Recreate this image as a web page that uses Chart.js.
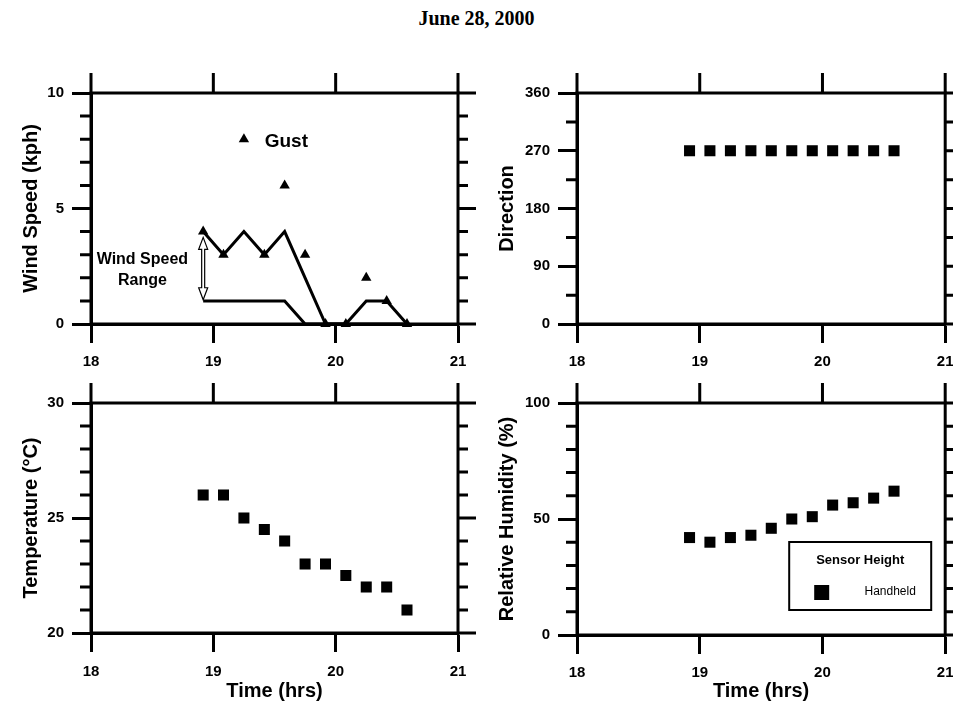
<!DOCTYPE html>
<html>
<head>
<meta charset="utf-8">
<script src="https://cdn.jsdelivr.net/npm/chart.js@4.4.0/dist/chart.umd.min.js"></script>
<style>
  body { margin: 0; background: #fff; }
  #wrap { position: relative; width: 953px; height: 705px; overflow: hidden; }
  #title { position: absolute; left: 0; top: 7px; width: 953px; text-align: center;
           font: bold 20px "Liberation Serif", "Times New Roman", serif; line-height: 23px; color: #000; }
  canvas { position: absolute; }
</style>
</head>
<body>
<div id="wrap">
  <div id="title">June 28, 2000</div>
  <canvas id="wind" width="476" height="310" style="left:0;top:60px"></canvas>
  <canvas id="dir" width="477" height="310" style="left:476px;top:60px"></canvas>
  <canvas id="temp" width="476" height="335" style="left:0;top:370px"></canvas>
  <canvas id="rh" width="477" height="335" style="left:476px;top:370px"></canvas>
</div>
<script>
// sample times, hours
const timeHrs = [18.917, 19.083, 19.25, 19.417, 19.583, 19.75, 19.917, 20.083, 20.25, 20.417, 20.583];
// wind speed, kph
const windMax  = [4, 3, 4, 3, 4, 2, 0, 0, 1, 1, 0];
const windMin  = [1, 1, 1, 1, 1, 0, 0, 0, 0, 0, 0];
const windGust = [4, 3, 8, 3, 6, 3, 0, 0, 2, 1, 0];
// direction, degrees
const direction = [270, 270, 270, 270, 270, 270, 270, 270, 270, 270, 270];
// temperature, C
const temperature = [26, 26, 25, 24.5, 24, 23, 23, 22.5, 22, 22, 21];
// relative humidity, %
const humidity = [42, 40, 42, 43, 46, 50, 51, 56, 57, 59, 62];

const xTicks = [18, 19, 20, 21];

const FAMILY = '"Liberation Sans", Arial, sans-serif';
Chart.defaults.font.family = FAMILY;
Chart.defaults.color = '#000';

function pts(ys) {
  return timeHrs.map((t, i) => ({ x: t, y: ys[i] }));
}

// box round the plot, mirrored ticks on top and right, minor ticks
const framePlugin = {
  id: 'frame',
  afterDraw(chart, args, opts) {
    const { ctx, chartArea: a, scales: { x, y } } = chart;
    ctx.save();
    ctx.strokeStyle = '#000';
    ctx.lineWidth = 3;
    ctx.strokeRect(a.left, a.top, a.right - a.left, a.bottom - a.top);
    ctx.beginPath();
    xTicks.forEach(v => {
      const px = x.getPixelForValue(v);
      ctx.moveTo(px, a.top);
      ctx.lineTo(px, a.top - 20);
    });
    for (let v = y.min; v <= y.max + 1e-9; v += opts.minor) {
      const py = y.getPixelForValue(v);
      const r = v / opts.major;
      const major = Math.abs(r - Math.round(r)) < 1e-6;
      ctx.moveTo(a.right, py);
      ctx.lineTo(a.right + (major ? 19 : 10), py);
      if (!major) {
        ctx.moveTo(a.left + 2, py);
        ctx.lineTo(a.left - 11, py);
      }
    }
    ctx.stroke();
    ctx.restore();
  }
};

// text and arrow in the wind panel
const windNotes = {
  id: 'windNotes',
  afterDatasetsDraw(chart) {
    const { ctx, scales: { x, y } } = chart;
    ctx.save();
    ctx.fillStyle = '#000';
    ctx.textBaseline = 'middle';
    ctx.font = 'bold 19px ' + FAMILY;
    ctx.fillText('Gust', x.getPixelForValue(19.42), y.getPixelForValue(7.9));
    ctx.font = 'bold 16px ' + FAMILY;
    ctx.textAlign = 'center';
    ctx.fillText('Wind Speed', x.getPixelForValue(18.42), y.getPixelForValue(2.77));
    ctx.fillText('Range', x.getPixelForValue(18.42), y.getPixelForValue(1.86));

    // hollow double arrow
    const ax = x.getPixelForValue(18.917);
    const y1 = y.getPixelForValue(3.75), y2 = y.getPixelForValue(1.05);
    ctx.lineWidth = 1.2;
    ctx.strokeStyle = '#000';
    ctx.beginPath();
    ctx.moveTo(ax, y1);
    ctx.lineTo(ax + 4.5, y1 + 12);
    ctx.lineTo(ax + 1.5, y1 + 12);
    ctx.lineTo(ax + 1.5, y2 - 12);
    ctx.lineTo(ax + 4.5, y2 - 12);
    ctx.lineTo(ax, y2);
    ctx.lineTo(ax - 4.5, y2 - 12);
    ctx.lineTo(ax - 1.5, y2 - 12);
    ctx.lineTo(ax - 1.5, y1 + 12);
    ctx.lineTo(ax - 4.5, y1 + 12);
    ctx.closePath();
    ctx.stroke();
    ctx.restore();
  }
};

// boxed legend in the humidity panel
const rhLegend = {
  id: 'rhLegend',
  afterDraw(chart) {
    const { ctx, chartArea: a } = chart;
    const w = 142, h = 68;
    const left = a.right - 14 - w, top = a.bottom - 25 - h;
    ctx.save();
    ctx.fillStyle = '#fff';
    ctx.fillRect(left, top, w, h);
    ctx.strokeStyle = '#000';
    ctx.lineWidth = 2;
    ctx.strokeRect(left, top, w, h);
    ctx.fillStyle = '#000';
    ctx.textAlign = 'center';
    ctx.textBaseline = 'middle';
    ctx.font = 'bold 13px ' + FAMILY;
    ctx.fillText('Sensor Height', left + w / 2, top + 18);
    ctx.fillRect(left + 25, top + 43, 15, 15);
    ctx.font = '12px ' + FAMILY;
    ctx.fillText('Handheld', left + 101, top + 50);
    ctx.restore();
  }
};

function panelOptions(p) {
  return {
    responsive: false,
    animation: false,
    layout: { padding: { top: 33, right: p.padRight, left: 0, bottom: 0 } },
    plugins: {
      legend: { display: false },
      tooltip: { enabled: false },
      frame: { minor: p.minor, major: p.major }
    },
    scales: {
      x: {
        type: 'linear',
        min: 18,
        max: 21,
        afterBuildTicks: s => { s.ticks = xTicks.map(v => ({ value: v })); },
        ticks: { font: { size: 15, weight: 'bold' }, color: '#000', padding: p.xPad },
        grid: { drawOnChartArea: false, tickLength: 19, tickWidth: 3, tickColor: '#000' },
        border: { width: 3, color: '#000' },
        title: {
          display: !!p.xTitle,
          text: p.xTitle || '',
          color: '#000',
          font: { size: 20, weight: 'bold' },
          padding: { top: 0, bottom: 2 }
        },
        afterFit: s => { s.height = p.xHeight; s.paddingLeft = 0; s.paddingRight = 0; }
      },
      y: {
        type: 'linear',
        min: p.yMin,
        max: p.yMax,
        ticks: { stepSize: p.major, font: { size: 15, weight: 'bold' }, color: '#000', padding: 8 },
        grid: { drawOnChartArea: false, tickLength: 19, tickWidth: 3, tickColor: '#000' },
        border: { width: 3, color: '#000' },
        title: {
          display: true,
          text: p.yTitle,
          color: '#000',
          font: { size: 20, weight: 'bold' },
          padding: { top: 19, bottom: 0 }
        },
        afterFit: s => { s.width = p.yWidth; }
      }
    }
  };
}

function squares(ys) {
  return {
    data: pts(ys),
    pointStyle: 'rect',
    pointRadius: 7.8,
    backgroundColor: '#000',
    borderColor: '#000',
    borderWidth: 0,
    showLine: false,
    clip: false
  };
}

new Chart(document.getElementById('wind'), {
  type: 'scatter',
  data: {
    datasets: [
      {
        data: pts(windGust),
        pointStyle: 'triangle',
        pointRadius: 6,
        backgroundColor: '#000',
        borderColor: '#000',
        borderWidth: 0,
        showLine: false,
        clip: false
      },
      {
        data: pts(windMax),
        showLine: true,
        pointRadius: 0,
        borderColor: '#000',
        borderWidth: 3,
        borderJoinStyle: 'miter',
        clip: false
      },
      {
        data: pts(windMin),
        showLine: true,
        pointRadius: 0,
        borderColor: '#000',
        borderWidth: 3,
        borderJoinStyle: 'miter',
        clip: false
      }
    ]
  },
  options: panelOptions({
    yMin: 0, yMax: 10, major: 5, minor: 1,
    yTitle: 'Wind Speed (kph)', yWidth: 91, padRight: 18, xHeight: 46, xPad: 10
  }),
  plugins: [framePlugin, windNotes]
});

new Chart(document.getElementById('dir'), {
  type: 'scatter',
  data: { datasets: [squares(direction)] },
  options: panelOptions({
    yMin: 0, yMax: 360, major: 90, minor: 45,
    yTitle: 'Direction', yWidth: 101, padRight: 7, xHeight: 46, xPad: 10
  }),
  plugins: [framePlugin]
});

new Chart(document.getElementById('temp'), {
  type: 'scatter',
  data: { datasets: [squares(temperature)] },
  options: panelOptions({
    yMin: 20, yMax: 30, major: 5, minor: 1,
    yTitle: 'Temperature (\u00B0C)', yWidth: 91, padRight: 18, xHeight: 72, xPad: 11,
    xTitle: 'Time (hrs)'
  }),
  plugins: [framePlugin]
});

new Chart(document.getElementById('rh'), {
  type: 'scatter',
  data: { datasets: [squares(humidity)] },
  options: panelOptions({
    yMin: 0, yMax: 100, major: 50, minor: 10,
    yTitle: 'Relative Humidity (%)', yWidth: 101, padRight: 7, xHeight: 70, xPad: 10,
    xTitle: 'Time (hrs)'
  }),
  plugins: [framePlugin, rhLegend]
});
</script>
</body>
</html>
